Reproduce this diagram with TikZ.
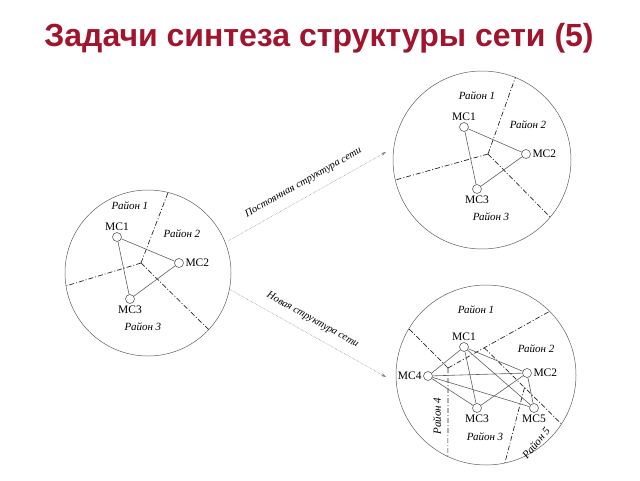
\documentclass[tikz,border=0pt]{standalone}
\usepackage{fontspec}
\setmainfont{Liberation Serif}
\newfontfamily\titlefont{Liberation Sans}
\usetikzlibrary{calc,arrows.meta}

\definecolor{titlered}{RGB}{160,20,45}
\definecolor{linegray}{RGB}{95,95,95}

\tikzset{
  zone/.style = {circle,
      draw = linegray,
      line width = 0.5pt,
      inner sep = 0pt},
  station/.style = {circle,
      draw = linegray,
      fill = white,
      line width = 0.6pt,
      inner sep = 0pt,
      minimum size = 9pt},
  stlabel/.style = {font = \fontsize{11.5}{13}\selectfont, inner sep = 1.5pt},
  border/.style = {draw = black!85,
      line width = 0.7pt,
      dash pattern = on 5pt off 2pt on 1pt off 2pt},
  link/.style = {draw = linegray, line width = 0.6pt},
  region/.style = {font = \itshape\fontsize{11}{12}\selectfont, inner sep = 0pt},
  flow/.style = {draw = gray,
      densely dotted,
      line width = 0.5pt,
      -{Stealth[length=5pt, width=3pt]}},
  flowtext/.style = {font = \itshape\fontsize{10.5}{12}\selectfont,
      sloped,
      above = 9pt,
      inner sep = 0pt}
}

\begin{document}
\begin{tikzpicture}[x=1pt, y=-1pt]
\useasboundingbox (0,0) rectangle (640,480);

% title
\node[font = \titlefont\bfseries\fontsize{32}{36}\selectfont,
    text = titlered] (title) at (319,38) {Задачи синтеза структуры сети (5)};

% left network
\node[zone, minimum size = 166pt] (west) at (148,273) {};
\coordinate (wv) at (141,263);
\draw[border] (wv) -- (west.76.5);
\draw[border] (wv) -- (west.189);
\draw[border] (wv) -- (west.-43);

\node[station, label = {[stlabel]above:МС1}] (w1) at (117,237) {};
\node[station, label = {[stlabel]right:МС2}] (w2) at (179,263) {};
\node[station, label = {[stlabel]below:МС3}] (w3) at (130,299) {};
\draw[link] (w1) -- (w2) -- (w3) -- (w1);

\node[region] (wr1) at (130,206) {Район 1};
\node[region] (wr2) at (182,234) {Район 2};
\node[region] (wr3) at (143,327) {Район 3};

% upper right network
\node[zone, minimum size = 178pt] (north) at (482,160) {};
\coordinate (nv) at (488,154);
\draw[border] (nv) -- (north.68.2);
\draw[border] (nv) -- (north.193.7);
\draw[border] (nv) -- (north.-40.8);

\node[station, label = {[stlabel]above:МС1}] (n1) at (464,127) {};
\node[station, label = {[stlabel]right:МС2}] (n2) at (526,154) {};
\node[station, label = {[stlabel]below:МС3}] (n3) at (477,189) {};
\draw[link] (n1) -- (n2) -- (n3) -- (n1);

\node[region] (nr1) at (477,96) {Район 1};
\node[region] (nr2) at (528,125) {Район 2};
\node[region] (nr3) at (491,217) {Район 3};

% lower right network
\node[zone, minimum size = 180pt] (south) at (486,375) {};
\coordinate (sv1) at (448,368);
\coordinate (sv2) at ($(sv1)!0.356!(south.45.5)$);
\coordinate (sv3) at ($(sv2)!0.52!(south.-33)$);
\draw[border] (sv1) -- (south.149.3);
\draw[border] (sv1) -- (south.45.5);
\draw[border] (sv1) -- (south.245.9);
\draw[border] (sv2) -- (south.-33);
\draw[border] (sv3) -- (south.282.3);

\node[station, label = {[stlabel]above:МС1}] (s1) at (464,347) {};
\node[station, label = {[stlabel]right:МС2}] (s2) at (527,373) {};
\node[station, label = {[stlabel]below:МС3}] (s3) at (477,408) {};
\node[station, label = {[stlabel]left:МС4}] (s4) at (428,376) {};
\node[station, label = {[stlabel]below:МС5}] (s5) at (534,408) {};
\draw[link] (s1) -- (s2);
\draw[link] (s1) -- (s3);
\draw[link] (s1) -- (s4);
\draw[link] (s1) -- (s5);
\draw[link] (s2) -- (s3);
\draw[link] (s2) -- (s4);
\draw[link] (s2) -- (s5);
\draw[link] (s3) -- (s4);
\draw[link] (s4) -- (s5);

\node[region] (sr1) at (476,310) {Район 1};
\node[region] (sr2) at (536,349) {Район 2};
\node[region] (sr3) at (485,437) {Район 3};
\node[region, rotate = 90] (sr4) at (437,416) {Район 4};
\node[region, rotate = 50] (sr5) at (536,443) {Район 5};

% transitions
\coordinate (f1) at (228,241);
\coordinate (f2) at (386,152);
\coordinate (g1) at (229,289);
\coordinate (g2) at (386,377);
\draw[flow] (f1) -- node[flowtext, pos = 0.52] {Постоянная структура сети} (f2);
\draw[flow] (g1) -- node[flowtext, pos = 0.49] {Новая структура сети} (g2);

\end{tikzpicture}
\end{document}
